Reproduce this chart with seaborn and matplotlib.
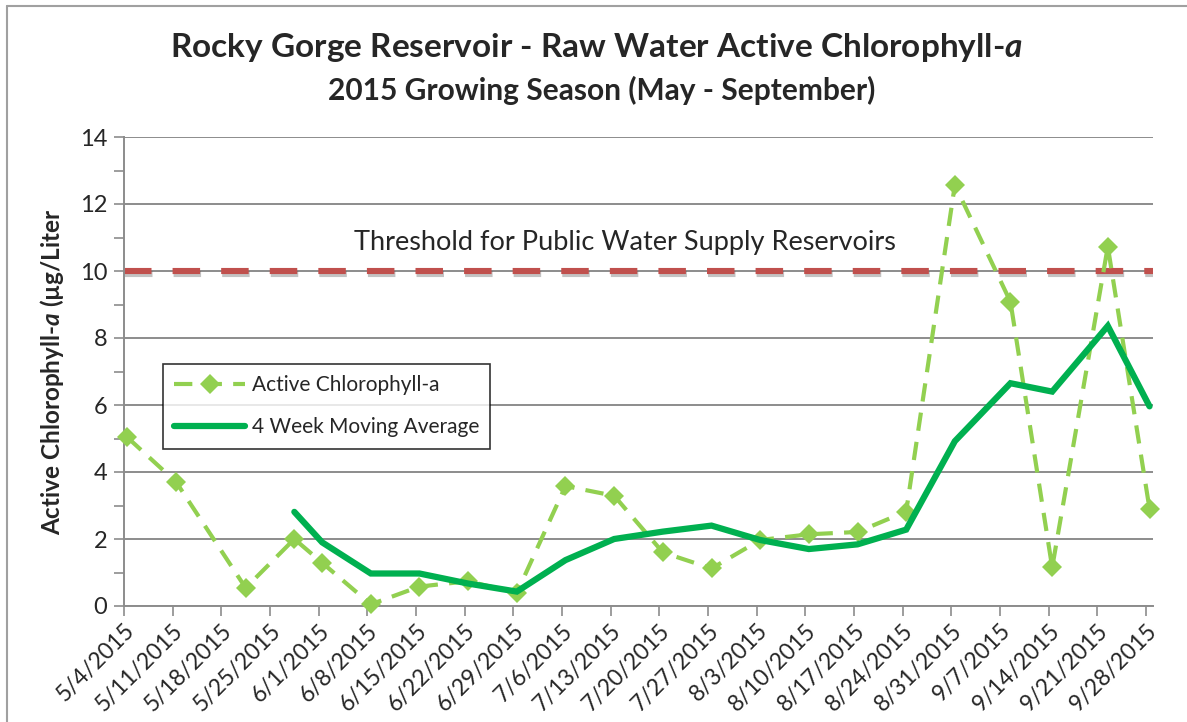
import matplotlib
matplotlib.use("Agg")
import matplotlib.pyplot as plt
import matplotlib.patheffects as pe
from matplotlib.lines import Line2D
import numpy as np
import pandas as pd
import seaborn as sns

# sample dates and values
chl_dates = ["2015-05-04", "2015-05-11", "2015-05-21", "2015-05-28", "2015-06-01",
             "2015-06-08", "2015-06-15", "2015-06-22", "2015-06-29", "2015-07-06",
             "2015-07-13", "2015-07-20", "2015-07-27", "2015-08-03", "2015-08-10",
             "2015-08-17", "2015-08-24", "2015-08-31", "2015-09-08", "2015-09-14",
             "2015-09-22", "2015-09-28"]
chl_values = [5.03, 3.70, 0.54, 2.00, 1.29, 0.05, 0.58, 0.74, 0.39, 3.58,
              3.29, 1.60, 1.12, 1.97, 2.14, 2.21, 2.82, 12.57, 9.08, 1.15,
              10.73, 2.90]

avg_dates = chl_dates[3:]
avg_values = [2.81, 1.90, 0.97, 0.97, 0.67, 0.43, 1.37, 2.00, 2.22, 2.40,
              1.97, 1.70, 1.84, 2.28, 4.92, 6.65, 6.40, 8.36, 5.96]

threshold = 10
tick_dates = pd.date_range("2015-05-04", "2015-09-28", freq="7D")
tick_labels = [f"{d.month}/{d.day}/{d.year}" for d in tick_dates]

title = "Rocky Gorge Reservoir - Raw Water Active Chlorophyll-$\\mathbfit{a}$"
subtitle = "2015 Growing Season (May - September)"

FONT = "Lato"
GRID = "#8c8c8c"
LIGHT_GREEN = "#92D050"
DARK_GREEN = "#00B050"
RED = "#C0504D"

sns.set_style("white")
plt.rcParams["font.family"] = [FONT, "DejaVu Sans"]
plt.rcParams["mathtext.fontset"] = "custom"
plt.rcParams["mathtext.bfit"] = f"{FONT}:bold:italic"
plt.rcParams["mathtext.it"] = f"{FONT}:italic"
plt.rcParams["mathtext.bf"] = f"{FONT}:bold"
plt.rcParams["mathtext.rm"] = FONT

fig = plt.figure(figsize=(11.87, 7.22), dpi=100)
ax = fig.add_axes([124 / 1187, 1 - 606 / 722, (1153 - 124) / 1187, (606 - 137) / 722])

# Excel date axis puts each point in the middle of its day
half_day = pd.Timedelta(hours=12)
chl_x = pd.to_datetime(chl_dates) + half_day
avg_x = pd.to_datetime(avg_dates) + half_day

ax.axhline(threshold, color=RED, lw=4.4, dashes=(4.5, 3.45), solid_capstyle="butt",
           dash_capstyle="butt", zorder=2,
           path_effects=[pe.SimpleLineShadow(offset=(1, -2), shadow_color="#555555", alpha=0.35),
                         pe.Normal()])

sns.lineplot(x=chl_x, y=chl_values, ax=ax, color=LIGHT_GREEN, lw=3.0, marker="D",
             markersize=10.5, markeredgewidth=0, zorder=3, clip_on=False)
chl_line = ax.lines[-1]
chl_line.set_dashes((4.4, 2.7))

sns.lineplot(x=avg_x, y=avg_values, ax=ax, color=DARK_GREEN, lw=4.5, zorder=4,
             solid_joinstyle="miter", clip_on=False)

ax.set_xlim(pd.Timestamp("2015-05-04"), pd.Timestamp("2015-09-29"))
ax.set_ylim(0, 14)
ax.set_xticks(tick_dates)
ax.set_xticklabels(tick_labels, rotation=45, ha="right", rotation_mode="anchor", fontsize=16.5)
ax.set_yticks(np.arange(0, 15, 2))
ax.set_yticks(np.arange(1, 14, 2), minor=True)
ax.tick_params(axis="y", which="both", length=7, width=1.2, color=GRID, labelsize=17, pad=5, left=True)
ax.tick_params(axis="x", length=7, width=1.2, color=GRID, pad=3, bottom=True)
ax.grid(axis="y", which="major", color=GRID, lw=1.4)
ax.set_axisbelow(True)
for side in ["top", "right"]:
    ax.spines[side].set_visible(False)
for side in ["left", "bottom"]:
    ax.spines[side].set_color(GRID)
    ax.spines[side].set_linewidth(1.4)

ax.set_xlabel("")
ax.set_ylabel("Active Chlorophyll-$\\mathbfit{a}$ (µg/Liter", fontsize=17.5, fontweight="bold", labelpad=10)

ax.text(pd.Timestamp("2015-07-15"), 10.85, "Threshold for Public Water Supply Reservoirs",
        ha="center", va="center", fontsize=19.5)

handles = [
    Line2D([], [], color=LIGHT_GREEN, lw=3.0, dashes=(4.4, 2.7), marker="D", markersize=10.5,
           markeredgewidth=0),
    Line2D([], [], color=DARK_GREEN, lw=4.5),
]
leg = ax.legend(handles, ["Active Chlorophyll-a", "4 Week Moving Average"],
                loc="upper left", bbox_to_anchor=((163 - 124) / 1029, (606 - 364) / 469),
                fontsize=15, frameon=True, fancybox=False, handlelength=3.4,
                borderpad=0.55, labelspacing=1.05, handletextpad=0.3, borderaxespad=0)
leg.get_frame().set_edgecolor("black")
leg.get_frame().set_linewidth(1.2)

fig.text(596 / 1187, 1 - 47 / 722, title, ha="center", va="center", fontsize=24, fontweight="bold")
fig.text(602 / 1187, 1 - 90 / 722, subtitle, ha="center", va="center", fontsize=21.5, fontweight="bold")

# chart area border (top and left edges visible)
fig.add_artist(Line2D([7 / 1187, 1], [1 - 6 / 722, 1 - 6 / 722], color="#a0a0a0", lw=1.5,
                      transform=fig.transFigure))
fig.add_artist(Line2D([7 / 1187, 7 / 1187], [0, 1 - 6 / 722], color="#a0a0a0", lw=1.5,
                      transform=fig.transFigure))

fig.savefig("out.png", dpi=100)
